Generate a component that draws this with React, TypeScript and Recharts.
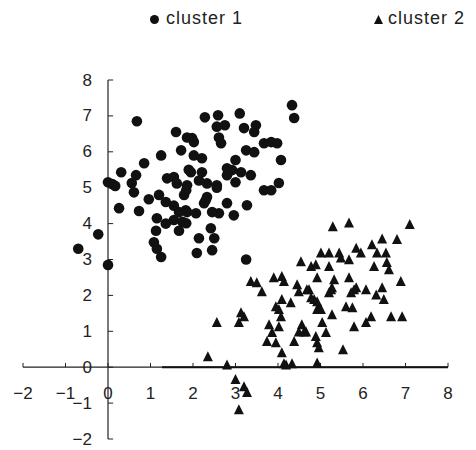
import {
  Legend,
  ReferenceDot,
  ReferenceLine,
  Scatter,
  ScatterChart,
  XAxis,
  YAxis,
} from "recharts";

const cluster1 = [
  [0.68, 6.85], [0.0, 5.15], [0.1, 5.1], [0.17, 5.05], [0.31, 5.43], [0.56, 5.13],
  [0.66, 5.35], [0.61, 4.87], [0.85, 5.68], [1.25, 5.9], [0.26, 4.43], [0.73, 4.35],
  [-0.23, 3.7], [-0.7, 3.3], [0.0, 2.85], [0.96, 4.68], [1.2, 4.8], [1.36, 4.6],
  [1.55, 4.5], [1.15, 4.15], [1.13, 3.8], [1.08, 3.48], [1.15, 3.3], [1.25, 3.07],
  [1.39, 5.26], [1.55, 5.3], [1.62, 5.12], [1.6, 6.55], [1.72, 6.04], [1.55, 4.1],
  [1.75, 4.05], [1.67, 3.8], [1.83, 4.37], [1.86, 6.4], [2.28, 6.96], [2.59, 7.02],
  [3.1, 7.07], [4.33, 7.3], [4.38, 6.94], [2.56, 6.7], [2.75, 6.74], [2.61, 6.4],
  [2.66, 6.24], [3.2, 6.66], [3.48, 6.74], [3.44, 6.55], [1.98, 6.38], [2.02, 6.27],
  [3.67, 6.24], [3.84, 6.27], [3.98, 6.24], [3.25, 6.04], [3.44, 5.99], [4.07, 5.77],
  [2.02, 5.9], [2.21, 5.82], [2.8, 5.54], [3.0, 5.77], [3.13, 5.43], [3.36, 5.35],
  [3.0, 5.15], [2.8, 5.35], [1.95, 5.43], [2.21, 5.43], [1.86, 5.07], [2.33, 5.12],
  [2.56, 5.07], [3.67, 4.93], [3.84, 4.93], [4.02, 5.13], [1.79, 4.8], [2.33, 4.74],
  [2.26, 4.57], [2.8, 4.57], [3.27, 4.51], [1.86, 4.32], [2.07, 4.29], [2.45, 4.32],
  [2.61, 4.29], [2.96, 4.23], [1.84, 4.01], [2.42, 3.87], [2.5, 3.59], [2.14, 3.59],
  [2.09, 3.18], [2.45, 3.26], [3.25, 3.0], [2.3, 4.65], [1.9, 5.5], [2.14, 5.2],
  [1.84, 4.93], [2.56, 5.0], [2.92, 5.49], [1.67, 4.32], [1.36, 4.0],
];

const cluster2 = [
  [4.54, 2.92], [4.78, 2.79], [3.36, 2.37], [3.5, 2.34], [3.62, 2.09], [3.9, 2.48],
  [4.09, 2.51], [4.14, 2.37], [4.45, 2.28], [4.49, 2.09], [4.73, 2.14], [4.09, 1.87],
  [4.3, 1.78], [3.95, 1.67], [4.02, 1.59], [4.07, 1.39], [3.13, 1.5], [3.2, 1.39],
  [3.08, 1.23], [2.56, 1.23], [3.79, 1.17], [4.02, 1.11], [3.86, 0.95], [3.74, 0.7],
  [3.95, 0.67], [4.38, 0.7], [4.56, 1.17], [4.66, 0.97], [4.09, 0.39], [4.14, 0.08],
  [4.33, 0.08], [2.8, 0.05], [2.35, 0.28], [3.0, -0.36], [3.2, -0.56], [3.27, -0.72],
  [3.08, -1.2], [5.29, 3.9], [5.67, 4.0], [7.1, 3.96], [6.45, 3.56], [6.8, 3.54],
  [6.21, 3.4], [5.84, 3.3], [5.95, 3.17], [6.33, 3.17], [6.54, 3.17], [6.56, 2.9],
  [6.61, 2.7], [6.26, 2.79], [5.01, 3.17], [5.2, 3.17], [5.44, 3.17], [5.48, 3.03],
  [5.67, 2.98], [4.89, 2.84], [5.2, 2.79], [4.92, 2.48], [5.32, 2.42], [5.27, 2.2],
  [5.2, 2.06], [5.67, 2.48], [5.84, 2.2], [5.72, 2.06], [6.07, 2.14], [6.45, 2.2],
  [6.31, 2.0], [6.49, 1.87], [6.89, 2.37], [4.85, 1.87], [4.96, 1.67], [4.92, 1.59],
  [5.6, 1.67], [5.75, 1.64], [5.27, 1.45], [6.19, 1.39], [6.07, 1.23], [5.79, 1.11],
  [6.66, 1.39], [6.92, 1.39], [5.04, 1.23], [5.13, 0.95], [4.92, 0.67], [4.96, 0.53],
  [5.53, 0.47], [4.92, 0.1], [4.19, 0.05], [4.89, 0.84], [4.49, 0.97], [4.68, 2.14],
  [4.78, 1.92], [4.92, 1.81], [5.01, 1.59], [5.25, 2.14], [5.79, 2.14], [4.61, 0.97],
];

const xTicks = [-2, -1, 0, 1, 2, 3, 4, 5, 6, 7, 8];
const yTicks = [-2, -1, 0, 1, 2, 3, 4, 5, 6, 7, 8];

const font = "'Liberation Sans', Arial, sans-serif";
const ink = "#111";

const toPoints = (rows: number[][]) => rows.map(([x, y]) => ({ x, y }));

function Circle({ cx, cy }: { cx?: number; cy?: number }) {
  return <circle cx={cx} cy={cy} r={5.3} fill={ink} />;
}

function Triangle({ cx, cy }: { cx?: number; cy?: number }) {
  if (cx == null || cy == null) return null;
  return (
    <polygon
      points={`${cx},${cy - 6} ${cx - 5},${cy + 4} ${cx + 5},${cy + 4}`}
      fill={ink}
    />
  );
}

function renderLegend() {
  const text = { fontFamily: font, fontSize: 18, color: "#222", letterSpacing: 1 };
  return (
    <div style={{ position: "relative", height: 0 }}>
      <div style={{ ...text, position: "absolute", left: 149, top: 8, whiteSpace: "nowrap" }}>
        <svg width={11} height={11} style={{ marginRight: 6, verticalAlign: "-1px" }}>
          <circle cx={5.5} cy={5.5} r={4.5} fill={ink} />
        </svg>
        cluster 1
      </div>
      <div style={{ ...text, position: "absolute", left: 373, top: 8, whiteSpace: "nowrap" }}>
        <svg width={11} height={11} style={{ marginRight: 4, verticalAlign: "-1px" }}>
          <polygon points="5.5,1 1,10 10,10" fill={ink} />
        </svg>
        cluster 2
      </div>
    </div>
  );
}

function xLabel(value: number) {
  return (props: any) => {
    const vb = props.viewBox ?? {};
    const cx = (vb.x ?? 0) + (vb.width ?? 0) / 2;
    const cy = (vb.y ?? 0) + (vb.height ?? 0) / 2;
    return (
      <text x={cx} y={cy + 26} textAnchor="middle" dominantBaseline="central"
        fontFamily={font} fontSize={17} fill="#222">
        {value < 0 ? `\u2212${-value}` : value}
      </text>
    );
  };
}

function yLabel(value: number) {
  return (props: any) => {
    const vb = props.viewBox ?? {};
    const cx = (vb.x ?? 0) + (vb.width ?? 0) / 2;
    const cy = (vb.y ?? 0) + (vb.height ?? 0) / 2;
    return (
      <text x={cx - 16} y={cy} textAnchor="end" dominantBaseline="central"
        fontFamily={font} fontSize={17} fill="#222">
        {value < 0 ? `\u2212${-value}` : value}
      </text>
    );
  };
}

export default function App() {
  return (
    <div style={{ position: "absolute", left: 0, top: 0, width: 476, height: 450, background: "#fff" }}>
      <ScatterChart width={476} height={450} margin={{ top: 80, right: 28, bottom: 11, left: 23 }}>
        <XAxis type="number" dataKey="x" domain={[-2, 8]} hide />
        <YAxis type="number" dataKey="y" domain={[-2, 8]} hide />
        <Legend content={renderLegend} verticalAlign="top" height={0}
          wrapperStyle={{ top: 0, left: 0, width: 476, height: 0 }} />

        <ReferenceLine segment={[{ x: 0, y: -2 }, { x: 0, y: 8 }]} stroke="#222" strokeWidth={1.2} />
        <ReferenceLine segment={[{ x: -2, y: 0 }, { x: 8, y: 0 }]} stroke="#222" strokeWidth={1.2} />
        <ReferenceLine segment={[{ x: 1.27, y: 0 }, { x: 8, y: 0 }]} stroke="#111" strokeWidth={2} />
        {yTicks.map((t) => (
          <ReferenceLine key={`yt${t}`} segment={[{ x: 0, y: t }, { x: 0.12, y: t }]} stroke="#222" />
        ))}
        {xTicks.map((t) => (
          <ReferenceLine key={`xt${t}`} segment={[{ x: t, y: 0 }, { x: t, y: 0.12 }]} stroke="#222" />
        ))}
        {xTicks.map((t) => (
          <ReferenceDot key={`xl${t}`} x={t} y={0} r={0.01} fill="none" stroke="none" label={xLabel(t)} />
        ))}
        {yTicks.map((t) => (
          <ReferenceDot key={`yl${t}`} x={0} y={t} r={0.01} fill="none" stroke="none" label={yLabel(t)} />
        ))}

        <Scatter name="cluster 1" data={toPoints(cluster1)} shape={<Circle />} isAnimationActive={false} />
        <Scatter name="cluster 2" data={toPoints(cluster2)} shape={<Triangle />} isAnimationActive={false} />
      </ScatterChart>
    </div>
  );
}
